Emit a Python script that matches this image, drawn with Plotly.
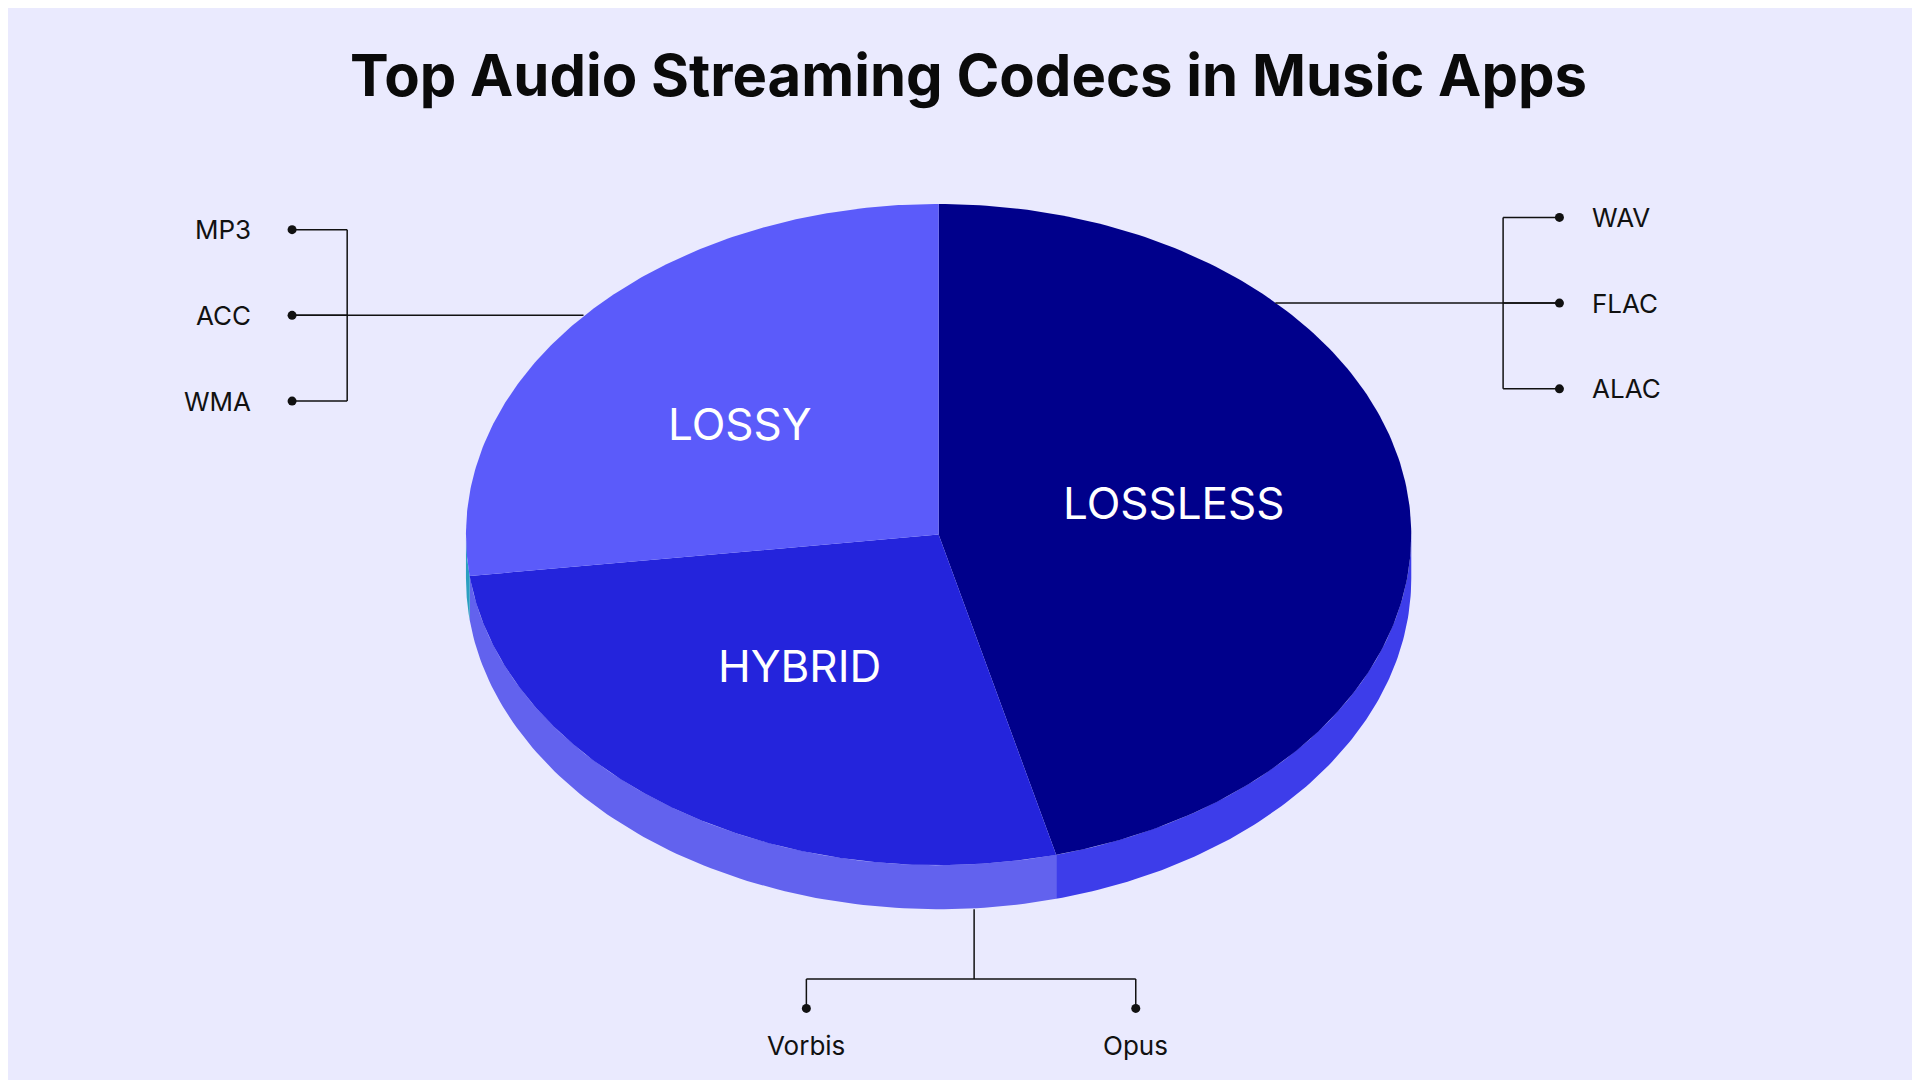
import numpy as np
import plotly.graph_objects as go

categories = ["LOSSLESS", "HYBRID", "LOSSY"]
shares = [46, 27, 27]
top_colors = ["#00008B", "#2424DC", "#5B5BFA"]
side_colors = ["#3D3DEA", "#6262EE", "#2AA0C0"]
lossy_items = ["MP3", "ACC", "WMA"]
lossless_items = ["WAV", "FLAC", "ALAC"]
hybrid_items = ["Vorbis", "Opus"]

W, H = 1568, 882
cx, cy, rx, ry, depth = 760, 430, 386, 270, 36

def pt(a):
    r = np.radians(a)
    return cx + rx*np.cos(r), cy - ry*np.sin(r)

fig = go.Figure()
tot = sum(shares)
bounds = [90]
for s in shares:
    bounds.append(bounds[-1] - 360*s/tot)

# sides
for i in range(3):
    a0, a1 = bounds[i], bounds[i+1]
    lo, hi = max(min(a0, a1), -180), min(max(a0, a1), 0)
    if lo >= hi:
        continue
    a = np.linspace(hi, lo, 100)
    xs, ys = pt(a)
    X = list(xs) + list(xs[::-1])
    Y = list(ys) + list(ys[::-1] + depth)
    fig.add_trace(go.Scatter(x=X, y=Y, fill="toself", mode="lines", line=dict(width=0),
                             fillcolor=side_colors[i], hoverinfo="skip", showlegend=False))
# tops
for i in range(3):
    a = np.linspace(bounds[i], bounds[i+1], 200)
    xs, ys = pt(a)
    X = [cx] + list(xs) + [cx]
    Y = [cy] + list(ys) + [cy]
    fig.add_trace(go.Scatter(x=X, y=Y, fill="toself", mode="lines", line=dict(width=0),
                             fillcolor=top_colors[i], hoverinfo="skip", showlegend=False))

label_pos = {"LOSSLESS": (952, 404), "HYBRID": (646, 537), "LOSSY": (598, 340)}
for c in categories:
    x, y = label_pos[c]
    fig.add_annotation(x=x, y=y, text=c, showarrow=False,
                       font=dict(family="Inter", size=44, color="white"))

lc = "#111111"
def line(xs, ys):
    fig.add_trace(go.Scatter(x=xs, y=ys, mode="lines", line=dict(color=lc, width=1.5),
                             hoverinfo="skip", showlegend=False))
def dot(x, y):
    fig.add_trace(go.Scatter(x=[x], y=[y], mode="markers", marker=dict(color=lc, size=9),
                             hoverinfo="skip", showlegend=False))

lab_font = dict(family="Inter", size=26, color="#111111")
# left
line([470, 232], [251, 251]); line([277, 277], [181, 321])
for y, t in zip([181, 251, 321], lossy_items):
    line([232, 277], [y, y]); dot(232, y)
    fig.add_annotation(x=200, y=y, text=t, showarrow=False, xanchor="right", font=lab_font)
# right
line([1035, 1267], [241, 241]); line([1221, 1221], [171, 311])
for y, t in zip([171, 241, 311], lossless_items):
    line([1221, 1267], [y, y]); dot(1267, y)
    fig.add_annotation(x=1292, y=y, text=t, showarrow=False, xanchor="left", font=lab_font)
# bottom
line([789, 789], [736, 793]); line([652, 921], [793, 793])
for x, t in zip([652, 921], hybrid_items):
    line([x, x], [793, 817]); dot(x, 817)
    fig.add_annotation(x=x, y=847, text=t, showarrow=False, font=lab_font)

fig.add_annotation(x=784, y=55, text="<b>Top Audio Streaming Codecs in Music Apps</b>",
                   showarrow=False, font=dict(family="Inter", size=58, color="#0a0a0a"))

fig.update_layout(width=1920, height=1080, margin=dict(l=0, r=0, t=0, b=0),
                  paper_bgcolor="#EAEAFE", plot_bgcolor="#EAEAFE",
                  xaxis=dict(range=[0, W], visible=False, fixedrange=True),
                  yaxis=dict(range=[H, 0], visible=False, fixedrange=True))
fig.write_html("out.html")
